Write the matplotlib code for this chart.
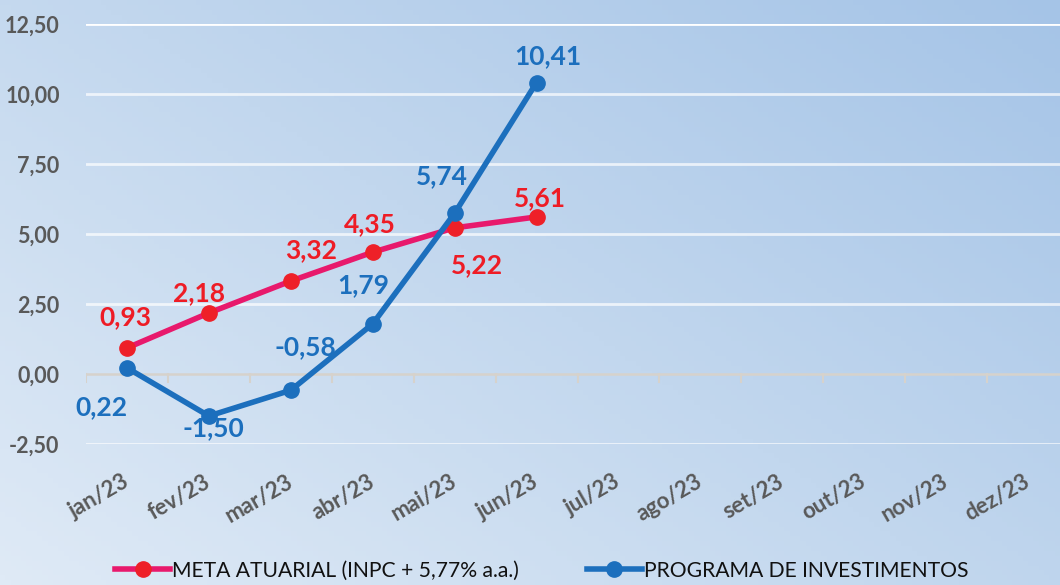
import numpy as np
import matplotlib.pyplot as plt
from matplotlib.colors import LinearSegmentedColormap

# dados
meses = ['jan/23', 'fev/23', 'mar/23', 'abr/23', 'mai/23', 'jun/23',
         'jul/23', 'ago/23', 'set/23', 'out/23', 'nov/23', 'dez/23']
meta = [0.93, 2.18, 3.32, 4.35, 5.22, 5.61]
programa = [0.22, -1.50, -0.58, 1.79, 5.74, 10.41]
meta_nome = 'META ATUARIAL (INPC + 5,77% a.a.)'
prog_nome = 'PROGRAMA DE INVESTIMENTOS'

# deslocamento dos rótulos (pixels)
meta_off = [(-2, 31), (-10, 20), (20, 31), (-3, 28), (22, -37), (3, 19)]
prog_off = [(-26, -39), (4, -12), (15, 43), (-9, 39), (-13, 37), (11, 26)]

plt.rcParams['font.family'] = ['Lato', 'DejaVu Sans']

fig = plt.figure(figsize=(10.6, 5.85), dpi=100)

# fundo em degradê
bg = fig.add_axes([0, 0, 1, 1], zorder=-1)
cmap = LinearSegmentedColormap.from_list('bg', ['#dfeaf6', '#c2d7ee', '#a5c4e7'])
gx, gy = np.meshgrid(np.linspace(0, 1, 200), np.linspace(0, 1, 120))
bg.imshow(0.55 * gx + 0.45 * gy, cmap=cmap, origin='lower', aspect='auto',
          extent=[0, 1, 0, 1])
bg.axis('off')

ax = fig.add_axes([86 / 1060, 1 - 444 / 585, 1 - 86 / 1060, 420 / 585])
ax.patch.set_alpha(0)
x = np.arange(len(meses))

yt = np.arange(-2.5, 12.6, 2.5)
ax.set_ylim(-2.5, 12.5)
ax.set_xlim(-0.5, 11.39)
ax.set_yticks(yt)
ax.set_yticklabels([f'{v:.2f}'.replace('.', ',') for v in yt],
                   fontweight='bold')
for v in yt:
    if v != 0:
        ax.axhline(v, color='white', lw=2, alpha=1 if v == 12.5 else 0.7, zorder=0)
ax.axhline(0, color='#d6d2cc', lw=1.8, zorder=1)
for b in np.arange(-0.5, 11.6, 1):
    ax.plot([b, b], [0, -0.28], color='#d6d2cc', lw=1.5, zorder=1)

for s in ax.spines.values():
    s.set_visible(False)
ax.tick_params(axis='y', length=0, pad=19, labelsize=15.5, labelcolor='#595959')
ax.tick_params(axis='x', length=0, pad=26)
ax.set_xticks(x)
ax.set_xticklabels(meses, rotation=30, ha='right', va='center',
                   rotation_mode='anchor', fontsize=16, color='#595959',
                   fontweight='bold')

ax.plot(x[:len(meta)], meta, color='#e8196c', lw=4, marker='o', ms=11,
        mfc='#ee2028', mec='#ee2028', zorder=3, label=meta_nome)
ax.plot(x[:len(programa)], programa, color='#1c6fbd', lw=4, marker='o', ms=11,
        mfc='#1c6fbd', mec='#1c6fbd', zorder=4, label=prog_nome)

for i, v in enumerate(meta):
    ax.annotate(f'{v:.2f}'.replace('.', ','), (x[i], v), xytext=meta_off[i],
                textcoords='offset pixels', ha='center', va='center', zorder=5,
                fontsize=19, fontweight='bold', color='#ee1c25')
for i, v in enumerate(programa):
    ax.annotate(f'{v:.2f}'.replace('.', ','), (x[i], v), xytext=prog_off[i],
                textcoords='offset pixels', ha='center', va='center', zorder=5,
                fontsize=19, fontweight='bold', color='#1c6fbd')

fig.legend(loc='lower center', bbox_to_anchor=(0.511, -0.025), ncol=2,
           frameon=False, fontsize=15.2, handlelength=2.6, columnspacing=3.2,
           handletextpad=0.1, labelcolor='#111111')

fig.savefig('out.png', dpi=100)
